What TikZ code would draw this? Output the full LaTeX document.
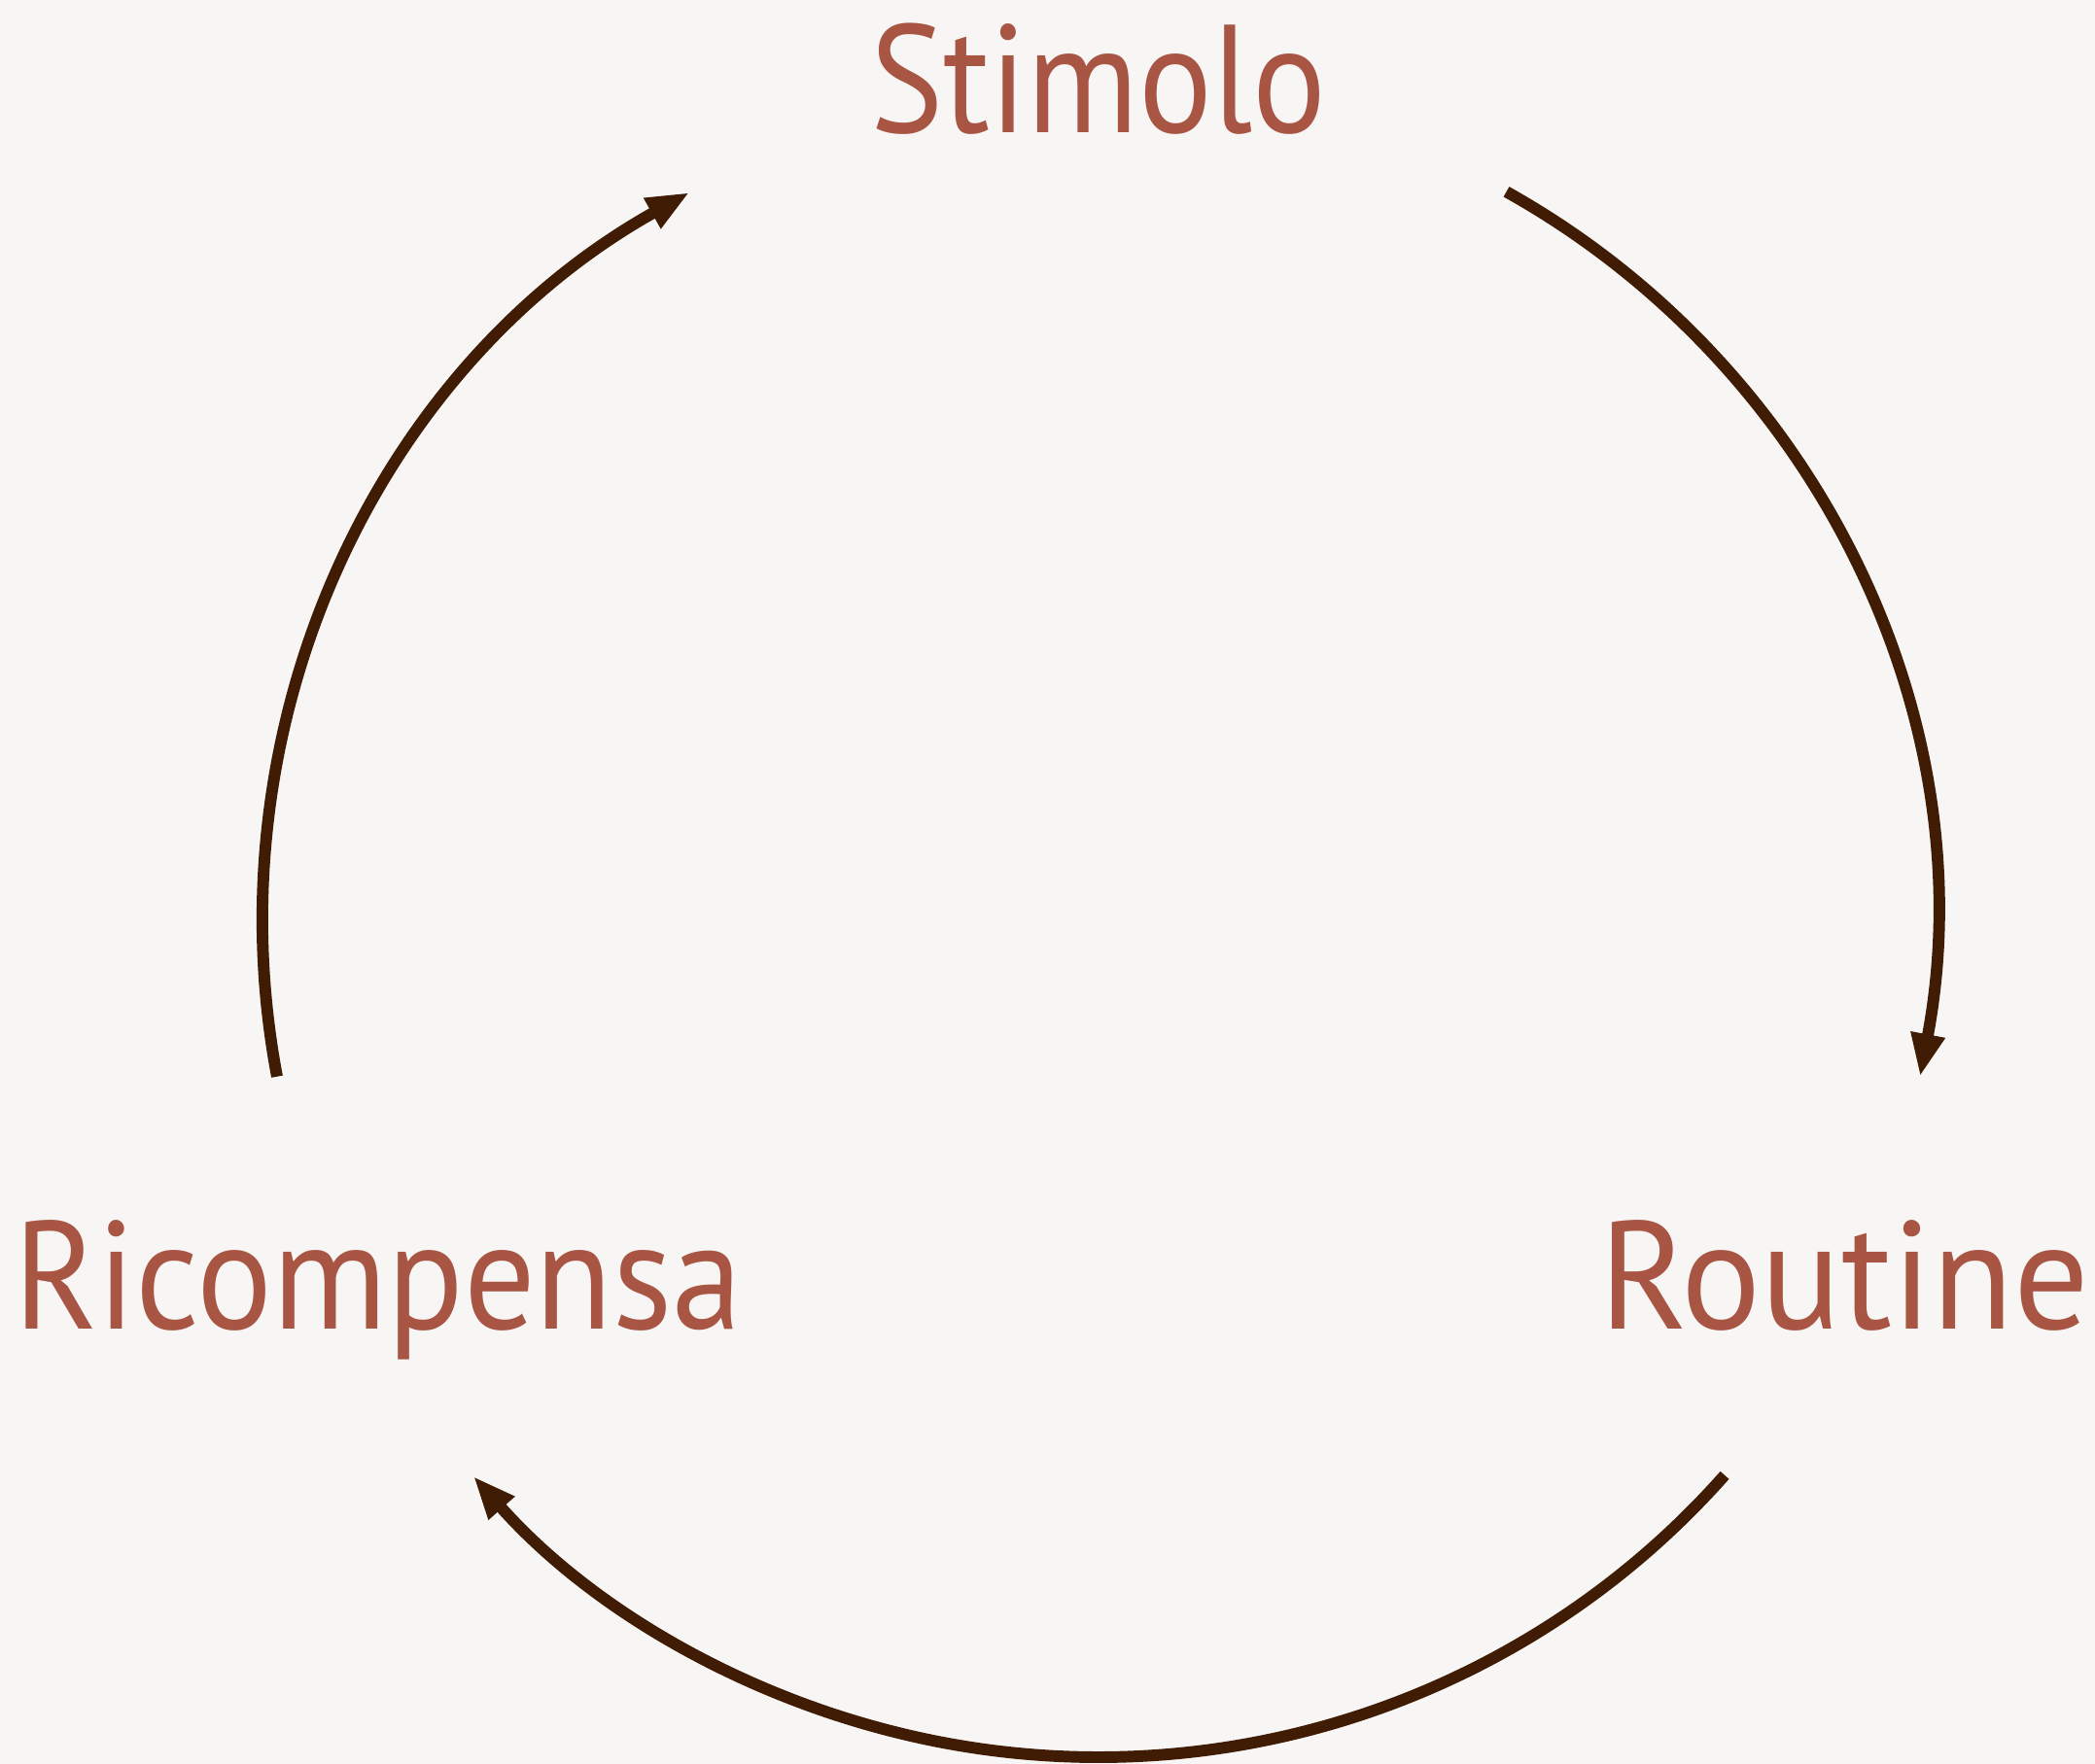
\documentclass[tikz,border=0pt]{standalone}
\usepackage{fontspec}
\setmainfont{PT Sans}
\usetikzlibrary{arrows.meta, calc}
\definecolor{paper}{HTML}{F7F6F5}
\definecolor{rust}{HTML}{A85544}
\definecolor{umber}{HTML}{411C05}
\newcommand{\narrowto}[2]{\scalebox{#1}[1]{#2}}

\begin{document}
\begin{tikzpicture}[
  phase/.style={text=rust, anchor=base, inner sep=0pt,
                font=\fontsize{45}{50}\selectfont},
  ring/.style={-{Triangle[length=4.4mm, width=3.3mm]}, line width=3.4pt, draw=umber}
]
\fill[paper] (0,0) rectangle (21.55,-18.15);
\useasboundingbox (0,0) rectangle (21.55,-18.15);

\coordinate (c) at (11.30,-9.48);
\node[phase] (stimolo)    at (11.30,-1.36)  {\narrowto{0.895}{Stimolo}};
\node[phase] (routine)    at (18.97,-13.67) {\narrowto{0.97}{Routine}};
\node[phase] (ricompensa) at (3.89,-13.67)  {\narrowto{0.92}{Ricompensa}};

% arc ends on the cycle
\coordinate (s-out) at ($(c)+(60.8:8.6)$);
\coordinate (r-out) at ($(c)+(-41.5:8.6)$);
\coordinate (k-out) at ($(c)+(190.7:8.6)$);

\draw[ring] (s-out) arc[start angle=60.8,  end angle=-10.7,  radius=8.6];
\draw[ring] (r-out) arc[start angle=-41.5, end angle=-138.4, radius=8.6];
\draw[ring] (k-out) arc[start angle=190.7, end angle=119.3,  radius=8.6];
\end{tikzpicture}
\end{document}
